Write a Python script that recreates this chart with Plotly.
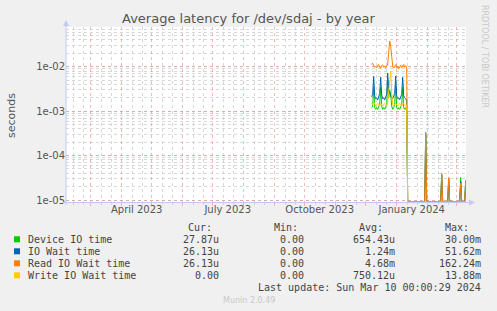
import plotly.graph_objects as go
import pandas as pd
import numpy as np

# ---------------- data ----------------
active_start = "2023-12-07"
end_date = "2024-03-10"

device_active = [0.0012, 0.0013, 0.0036, 0.0012, 0.0011, 0.0012, 0.0011, 0.0012, 0.0014, 0.0034,
                 0.0013, 0.0011, 0.0012, 0.0011, 0.0012, 0.0014, 0.0050, 0.0020, 0.0030, 0.0024,
                 0.0013, 0.0011, 0.0012, 0.0014, 0.0038, 0.0012, 0.0011, 0.0012, 0.0011, 0.0012,
                 0.0014, 0.0034, 0.0012, 0.0011, 0.0012, 0.0010]
iowait_active = [0.0021, 0.0024, 0.0060, 0.0022, 0.0019, 0.0020, 0.0018, 0.0021, 0.0025, 0.0058,
                 0.0023, 0.0019, 0.0020, 0.0018, 0.0021, 0.0024, 0.0072, 0.0030, 0.0026, 0.0022,
                 0.0020, 0.0019, 0.0021, 0.0025, 0.0062, 0.0022, 0.0019, 0.0020, 0.0018, 0.0021,
                 0.0024, 0.0058, 0.0022, 0.0020, 0.0019, 0.0017]
read_active = [0.0112, 0.0120, 0.0104, 0.0097, 0.0103, 0.0094, 0.0108, 0.0113, 0.0099, 0.0091,
               0.0106, 0.0110, 0.0097, 0.0104, 0.0094, 0.0101, 0.0116, 0.0220, 0.0380, 0.0290,
               0.0160, 0.0104, 0.0093, 0.0099, 0.0111, 0.0094, 0.0103, 0.0090, 0.0099, 0.0108,
               0.0095, 0.0101, 0.0112, 0.0097, 0.0106, 0.0100]
write_active = [0.0015, 0.0014, 0.0016, 0.0014, 0.0013, 0.0014, 0.0015, 0.0014, 0.0013, 0.0015,
                0.0014, 0.0013, 0.0014, 0.0015, 0.0014, 0.0013, 0.0016, 0.0030, 0.0060, 0.0080,
                0.0025, 0.0014, 0.0013, 0.0014, 0.0015, 0.0014, 0.0013, 0.0014, 0.0015, 0.0014,
                0.0013, 0.0014, 0.0015, 0.0014, 0.0013, 0.0014]

spike_dates = ["2024-01-30", "2024-02-15", "2024-02-22", "2024-03-05", "2024-03-10"]
device_spikes = [3.0e-4, 3.5e-5, 3.0e-5, 3.2e-5, 27.87e-6]
iowait_spikes = [3.2e-4, 3.8e-5, 3.1e-5, 2.6e-5, 26.13e-6]
read_spikes = [3.4e-4, 4.0e-5, 3.2e-5, 2.4e-5, 26.13e-6]
write_spikes = [0.0, 0.0, 0.0, 0.0, 0.0]

series_names = ["Device IO time", "IO Wait time", "Read IO Wait time", "Write IO Wait time"]
series_colors = ["#00CC00", "#0066B3", "#FF8000", "#FFCC00"]
cur_vals = ["27.87u", "26.13u", "26.13u", "0.00"]
min_vals = ["0.00", "0.00", "0.00", "0.00"]
avg_vals = ["654.43u", "1.24m", "4.68m", "750.12u"]
max_vals = ["30.00m", "51.62m", "162.24m", "13.88m"]

y_tick_vals = [1e-5, 1e-4, 1e-3, 1e-2]
y_tick_text = ["1e-05", "1e-04", "1e-03", "1e-02"]
x_label_dates = ["2023-04-16", "2023-07-16", "2023-10-16", "2024-01-16"]
x_label_text = ["April 2023", "July 2023", "October 2023", "January 2024"]

title = "Average latency for /dev/sdaj - by year"
y_title = "seconds"
last_update = "Last update: Sun Mar 10 00:00:29 2024"

# ---------------- layout geometry ----------------
W, H = 497, 311
L, R, T, B = 66, 466, 27, 202
x_range = ["2023-02-04 07:12", "2024-03-10 07:12"]
y_log_range = [-5.045, -1.106]
floor_val = 10 ** y_log_range[0]


def px(x):
    return (x - L) / (R - L)


def py(y):
    return (B - y) / (B - T)


idx = pd.date_range(active_start, end_date, freq="D")


def build(active, spikes):
    s = pd.Series(0.0, index=idx)
    s.iloc[:len(active)] = active
    s[pd.to_datetime(spike_dates)] = spikes
    return s.clip(lower=floor_val)


all_series = [build(device_active, device_spikes), build(iowait_active, iowait_spikes),
              build(read_active, read_spikes), build(write_active, write_spikes)]

fig = go.Figure()
for name, col, s in zip(series_names, series_colors, all_series):
    fig.add_trace(go.Scatter(x=s.index, y=s.values, mode="lines", name=name,
                             line=dict(color=col, width=1), showlegend=False,
                             cliponaxis=True))

# label axis (overlay) for month-centered labels
fig.add_trace(go.Scatter(x=[x_label_dates[0]], y=[1e-3], xaxis="x2", mode="markers",
                         marker=dict(opacity=0), showlegend=False, hoverinfo="skip"))

month_starts = pd.date_range("2023-02-01", "2024-03-01", freq="MS")
minor_dates = []
for m in month_starts:
    minor_dates.append(m + pd.Timedelta(days=11))
    minor_dates.append(m + pd.Timedelta(days=21))

red_grid = "rgba(235,140,140,0.6)"
gray_grid = "rgba(200,200,200,0.7)"

fig.update_layout(
    width=W, height=H,
    margin=dict(l=L, r=W - R, t=T, b=H - B, autoexpand=False),
    paper_bgcolor="#F0F0F0", plot_bgcolor="#FFFFFF",
    font=dict(family="DejaVu Sans", size=10, color="#555555"),
    xaxis=dict(type="date", range=x_range, tickmode="array", tickvals=list(month_starts),
               showticklabels=False, showgrid=True, gridcolor=red_grid, griddash="dot",
               gridwidth=1, ticks="outside", ticklen=3, tickcolor=red_grid, zeroline=False,
               showline=False, automargin=False,
               minor=dict(tickmode="array", tickvals=minor_dates, showgrid=True,
                          gridcolor=gray_grid, griddash="dot", gridwidth=1,
                          ticks="outside", ticklen=2, tickcolor=gray_grid)),
    xaxis2=dict(type="date", range=x_range, overlaying="x", side="bottom",
                tickmode="array", tickvals=x_label_dates, ticktext=x_label_text,
                showgrid=False, ticks="", showline=False, zeroline=False, automargin=False,
                tickfont=dict(family="DejaVu Sans", size=10, color="#555555")),
    yaxis=dict(type="log", range=y_log_range, tickmode="array", tickvals=y_tick_vals,
               ticktext=y_tick_text, showgrid=True, gridcolor=red_grid, griddash="dot",
               gridwidth=1, ticks="", zeroline=False, showline=False, automargin=False,
               tickfont=dict(family="DejaVu Sans", size=10, color="#555555"),
               minor=dict(dtick="D1", showgrid=True, gridcolor=gray_grid, griddash="dot",
                          gridwidth=1)),
)

axis_col = "#C4C8F4"
shapes = [
    dict(type="line", xref="paper", yref="paper", x0=px(66), x1=px(66), y0=py(205), y1=py(24),
         line=dict(color=axis_col, width=1)),
    dict(type="path", xref="paper", yref="paper",
         path=f"M {px(63)} {py(26)} L {px(69)} {py(26)} L {px(66)} {py(20)} Z",
         fillcolor=axis_col, line=dict(color=axis_col, width=0)),
    dict(type="line", xref="paper", yref="paper", x0=px(63), x1=px(470), y0=py(202.5), y1=py(202.5),
         line=dict(color=axis_col, width=1)),
    dict(type="path", xref="paper", yref="paper",
         path=f"M {px(469)} {py(199.5)} L {px(469)} {py(205.5)} L {px(475)} {py(202.5)} Z",
         fillcolor=axis_col, line=dict(color=axis_col, width=0)),
]

mono = dict(family="DejaVu Sans Mono", size=10, color="#444444")
ann = []


def text(x, y, t, anchor="left", font=mono, angle=0):
    ann.append(dict(xref="paper", yref="paper", x=px(x), y=py(y), text=t, showarrow=False,
                    xanchor=anchor, yanchor="middle", font=font, textangle=angle))


ann.append(dict(xref="paper", yref="paper", x=px(248), y=py(19), text=title, showarrow=False,
                xanchor="center", yanchor="middle",
                font=dict(family="DejaVu Sans", size=13, color="#555555")))
text(11, 115, y_title, "center", dict(family="DejaVu Sans", size=11, color="#555555"), angle=-90)

row_y0 = 239.3
row_dy = 12
text(213.5, 227.7, "Cur:", "right")
text(299.5, 227.7, "Min:", "right")
text(384.5, 227.7, "Avg:", "right")
text(470.5, 227.7, "Max:", "right")
for i, name in enumerate(series_names):
    y = row_y0 + i * row_dy
    shapes.append(dict(type="rect", xref="paper", yref="paper", x0=px(14), x1=px(20),
                       y0=py(y - 3), y1=py(y + 3), fillcolor=series_colors[i],
                       line=dict(width=0)))
    text(26, y, name, "left")
    text(220.5, y, cur_vals[i], "right")
    text(305.5, y, min_vals[i], "right")
    text(397, y, avg_vals[i], "right")
    text(483, y, max_vals[i], "right")
text(483, 287.3, last_update, "right")
text(249, 300, "Munin 2.0.49", "center", dict(family="DejaVu Sans", size=8, color="#C8C8C8"))
text(485, 56, "RRDTOOL / TOBI OETIKER", "center", dict(family="DejaVu Sans", size=8, color="#C8C8C8"),
     angle=90)

fig.update_layout(shapes=shapes, annotations=ann)
fig.write_html("out.html")
